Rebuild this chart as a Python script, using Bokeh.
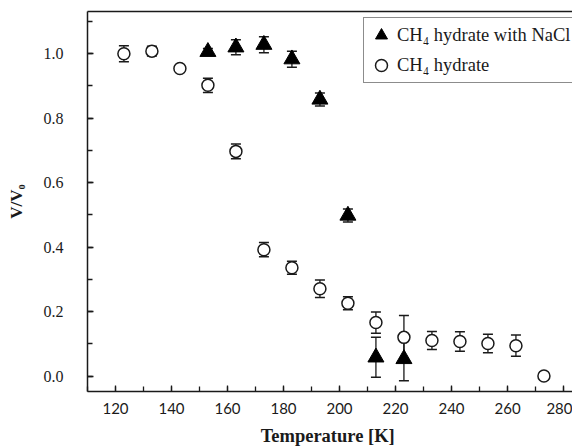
from bokeh.plotting import figure
from bokeh.models import (ColumnDataSource, Whisker, TeeHead, Legend, LegendItem,
                          SingleIntervalTicker, FixedTicker, LinearAxis, Range1d,
                          NumeralTickFormatter)
from bokeh.embed import file_html
from bokeh.resources import INLINE

# ---- data ----
temp_hyd = [123, 133, 143, 153, 163, 173, 183, 193, 203, 213, 223, 233, 243, 253, 263, 273]
v_hyd = [1.0, 1.008, 0.954, 0.902, 0.697, 0.392, 0.336, 0.271, 0.226, 0.166, 0.12, 0.11, 0.107, 0.101, 0.094, 0.0]
err_hyd = [0.025, 0.015, 0.0, 0.022, 0.023, 0.022, 0.02, 0.027, 0.02, 0.033, 0.068, 0.028, 0.03, 0.029, 0.033, 0.0]

temp_nacl = [153, 163, 173, 183, 193, 203, 213, 223]
v_nacl = [1.006, 1.02, 1.028, 0.983, 0.858, 0.498, 0.058, 0.053]
err_nacl = [0.01, 0.023, 0.025, 0.025, 0.02, 0.02, 0.062, 0.068]

label_nacl = "CH\u2084 hydrate with NaCl"
label_hyd = "CH\u2084 hydrate"

INK = "#1a1a1a"

p = figure(width=572, height=448, output_backend="svg", toolbar_location=None,
           x_range=Range1d(110, 283.2), y_range=Range1d(-0.048, 1.131),
           min_border_left=87, min_border_right=0, min_border_top=11, min_border_bottom=57)
p.outline_line_color = None
p.xgrid.visible = False
p.ygrid.visible = False
p.background_fill_color = "white"
p.border_fill_color = "white"

def err_source(t, v, e):
    tt, lo, hi = [], [], []
    for a, b, c in zip(t, v, e):
        if c > 0:
            tt.append(a); lo.append(b - c); hi.append(b + c)
    return ColumnDataSource(dict(x=tt, lower=lo, upper=hi))

for src in (err_source(temp_hyd, v_hyd, err_hyd), err_source(temp_nacl, v_nacl, err_nacl)):
    w = Whisker(source=src, base="x", lower="lower", upper="upper", dimension="height",
                line_color=INK, line_width=1.3,
                upper_head=TeeHead(size=10, line_color=INK, line_width=1.5),
                lower_head=TeeHead(size=10, line_color=INK, line_width=1.5))
    p.add_layout(w)

r_hyd = p.scatter(temp_hyd, v_hyd, marker="circle", size=12, fill_color="white",
                  line_color=INK, line_width=1.5)
r_nacl = p.scatter(temp_nacl, v_nacl, marker="triangle", size=16, fill_color="black",
                   line_color="black", line_width=1)

# axes
xa = p.xaxis[0]
xa.ticker = SingleIntervalTicker(interval=20, num_minor_ticks=2)
xa.axis_label = "Temperature  [K]"
xa.axis_label_text_font = "Liberation Serif"
xa.axis_label_text_font_style = "bold"
xa.axis_label_text_font_size = "18.5px"
xa.axis_label_text_color = INK
xa.axis_label_standoff = 9
xa.major_label_text_font = "Lato"
xa.major_label_text_font_size = "15px"
xa.major_label_text_color = INK
xa.major_label_standoff = 11

ya = p.yaxis[0]
ya.ticker = SingleIntervalTicker(interval=0.2, num_minor_ticks=2)
ya.formatter = NumeralTickFormatter(format="0.0")
ya.axis_label = "V/V\u2080"
ya.axis_label_text_font = "Liberation Serif"
ya.axis_label_text_font_style = "bold"
ya.axis_label_text_font_size = "17px"
ya.axis_label_text_color = INK
ya.axis_label_standoff = 15
ya.major_label_text_font = "Liberation Serif"
ya.major_label_text_font_size = "16px"
ya.major_label_text_color = INK
ya.major_label_standoff = 24

for ax in (xa, ya):
    ax.axis_line_color = INK
    ax.axis_line_width = 1.5
    ax.major_tick_line_color = INK
    ax.minor_tick_line_color = INK
    ax.major_tick_line_width = 1.3
    ax.minor_tick_line_width = 1.3
    ax.major_tick_in = 6
    ax.major_tick_out = 0
    ax.minor_tick_in = 5
    ax.minor_tick_out = 0

top = LinearAxis(ticker=FixedTicker(ticks=[]), axis_line_color=INK, axis_line_width=1.5,
                 major_tick_line_color=None, minor_tick_line_color=None,
                 major_label_standoff=0,
                 major_tick_out=0, major_tick_in=0, minor_tick_out=0, minor_tick_in=0)
p.add_layout(top, "above")

legend = Legend(items=[LegendItem(label=label_nacl, renderers=[r_nacl]),
                       LegendItem(label=label_hyd, renderers=[r_hyd])],
                location=(276, 308), orientation="vertical",
                glyph_width=30, glyph_height=30, label_height=30,
                padding=2, spacing=0, margin=0, label_standoff=1,
                label_text_font="Liberation Serif", label_text_font_size="18.5px",
                label_text_color=INK,
                border_line_color=INK, border_line_width=1.5,
                background_fill_color="white", background_fill_alpha=1.0)
p.add_layout(legend, "center")

open("out.html", "w").write(file_html(p, INLINE))
